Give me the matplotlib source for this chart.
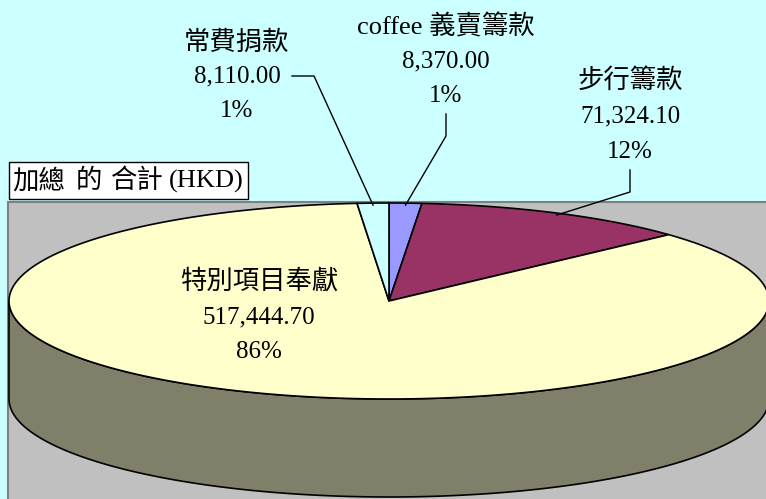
import numpy as np
import matplotlib
matplotlib.use("Agg")
import matplotlib.pyplot as plt
from matplotlib.patches import Polygon, Rectangle

# data (order = clockwise from 12 o'clock, as Excel draws it)
labels = ["coffee 義賣籌款", "步行籌款", "特別項目奉獻", "常費捐款"]
values = [8370.00, 71324.10, 517444.70, 8110.00]
colors = ["#9999FF", "#993366", "#FFFFCC", "#CCFFFF"]
title_parts = ["加總", "的", "合計", "(HKD)"]

FONT = ["Liberation Serif", "Noto Sans CJK TC", "DejaVu Sans"]

# pie geometry in pixel space
cx, cy = 389, 301
ra, rb = 380, 98
depth = 98
side_color = "#80806A"


def ell(theta_deg, dy=0):
    t = np.radians(theta_deg)
    return cx + ra * np.sin(t), cy - rb * np.cos(t) + dy


def whole_percents(vals):
    # largest remainder so the labels add up to 100
    raw = np.array(vals) / sum(vals) * 100
    out = np.floor(raw).astype(int)
    order = np.argsort(-(raw - out))
    for i in order[:100 - out.sum()]:
        out[i] += 1
    return out


fig = plt.figure(figsize=(7.66, 4.99), dpi=100)
fig.patch.set_facecolor("#CCFFFF")
ax = fig.add_axes([0, 0, 1, 1])
ax.set_xlim(0, 766)
ax.set_ylim(499, 0)
ax.axis("off")

# plot area
ax.add_patch(Rectangle((8, 202), 770, 310, facecolor="#C0C0C0",
                       edgecolor="#808080", lw=1.5, zorder=0))

# side of the pie (front half)
th = np.linspace(90, 270, 200)
top = np.array([ell(t) for t in th])
bot = np.array([ell(t, depth) for t in th[::-1]])
ax.add_patch(Polygon(np.vstack([top, bot]), closed=True,
                     facecolor=side_color, edgecolor="black", lw=1.2, zorder=1))

# top slices
total = sum(values)
start = 0.0
mids = []
for v, c in zip(values, colors):
    span = v / total * 360
    th = np.linspace(start, start + span, max(int(span * 3), 4))
    pts = [(cx, cy)] + [ell(t) for t in th]
    ax.add_patch(Polygon(pts, closed=True, facecolor=c, edgecolor="black",
                         lw=1.2, zorder=2))
    mids.append(start + span / 2)
    start += span

# labels
pct = [f"{p}%" for p in whole_percents(values)]
vals = [f"{v:,.2f}" for v in values]
label_pos = [
    (446, [27, 61, 96]),
    (630, [80, 116, 152]),
    (259, [281, 317, 352]),
    (237, [43, 76, 111]),
]
for name, val, p, (lx, ys) in zip(labels, vals, pct, label_pos):
    for s, y, fs in zip([name, val, p], ys, [19, 18, 18]):
        ax.text(lx, y, s, ha="center", va="center", fontsize=fs,
                family=FONT, color="black", zorder=5)

# leader lines
leaders = {0: [(446, 114), (446, 136)],
           1: [(630, 170), (630, 192)],
           3: [(292, 76), (314, 76)]}
for i, pts in leaders.items():
    ex, ey = ell(mids[i])
    xs = [p[0] for p in pts] + [ex]
    ys = [p[1] for p in pts] + [ey + 2]
    ax.plot(xs, ys, color="black", lw=1.0, zorder=4)

# title box
ax.add_patch(Rectangle((9, 162), 239, 37, facecolor="white",
                       edgecolor="black", lw=1.0, zorder=3))
for s, x, fs in zip(title_parts, [12, 76, 111, 169], [19, 19, 19, 19]):
    ax.text(x, 181, s, ha="left", va="center", fontsize=fs,
            family=FONT, color="black", zorder=4)

fig.savefig("out.png", dpi=100, facecolor=fig.get_facecolor())
